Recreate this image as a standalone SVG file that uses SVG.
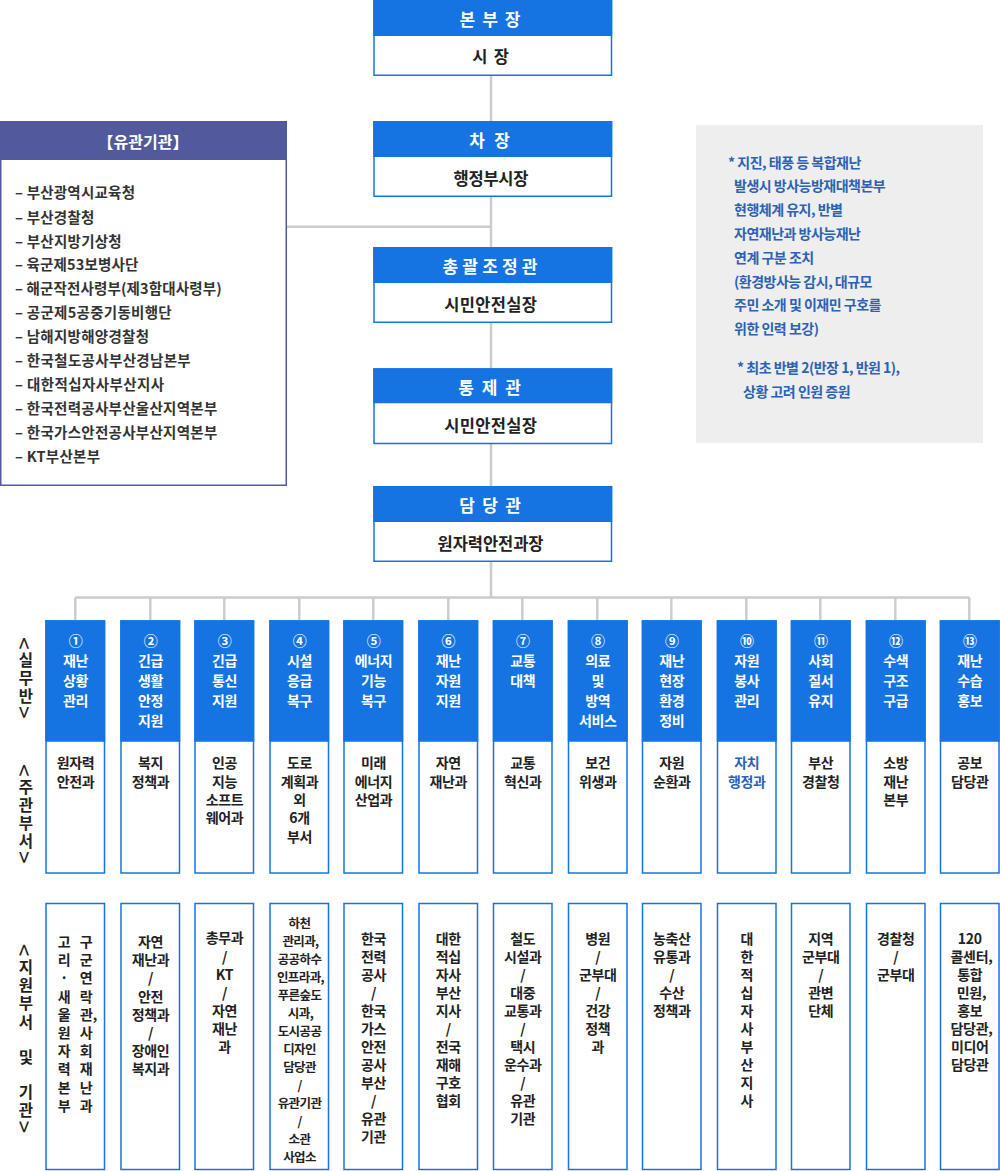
<svg xmlns="http://www.w3.org/2000/svg" width="1000" height="1171" viewBox="0 0 1000 1171">
<style>
.hb{fill:#1673e2}
.box{fill:#fff;stroke:#1673e2;stroke-width:1.5}
.t{font-family:"Noto Sans CJK KR","Noto Sans",sans-serif;dominant-baseline:central;text-anchor:middle}
.tl{font-family:"Noto Sans CJK KR","Noto Sans",sans-serif;dominant-baseline:central;text-anchor:start}
.hw{fill:#fff;font-size:17px;font-weight:bold}
.bk{fill:#222;font-size:16.5px;font-weight:bold}
.cw{fill:#fff;font-size:14px;font-weight:bold;letter-spacing:-0.3px}
.cb{fill:#222;font-size:14px;font-weight:bold;letter-spacing:-0.3px}
.cs{fill:#222;font-size:12.5px;font-weight:bold;letter-spacing:-0.6px}
.cblue{fill:#2c62b4}
.vt{font-family:"Noto Sans CJK KR","Noto Sans",sans-serif;writing-mode:vertical-rl;fill:#222;font-size:15.5px;font-weight:bold;letter-spacing:2.5px}
.ang{font-size:22px;font-weight:normal}
.ln{stroke:#cccccc;stroke-width:2.5;fill:none}
.org{fill:#fff;stroke:#525a9d;stroke-width:1.5}
.orgh{fill:#525a9d}
.li{fill:#333;font-size:14.5px;font-weight:bold}
.note{fill:#2c62b4;font-size:14px;font-weight:bold;letter-spacing:-0.5px}
</style>

<g id="connectors">
<path class="ln" d="M491 75 V597.5 M287 226.7 H491 M75.3 597.5 H969.5"/>
<path class="ln" d="M75.3 597.5 V621 M150.3 597.5 V621 M224.3 597.5 V621 M299.3 597.5 V621 M373.3 597.5 V621 M448.3 597.5 V621 M522.3 597.5 V621 M597.3 597.5 V621 M671.3 597.5 V621 M746.3 597.5 V621 M820.3 597.5 V621 M895.3 597.5 V621 M969.3 597.5 V621"/>
</g>

<g id="node-bonbujang">
<rect class="box" x="374" y="0.75" width="237.5" height="74.5"/>
<rect class="hb" x="373.25" y="0" width="239" height="36"/>
<text class="t hw" x="490" y="18.5" textLength="61" lengthAdjust="spacing">본 부 장</text>
<text class="t bk" x="490.5" y="56" textLength="36.7" lengthAdjust="spacing">시 장</text>
</g>
<g id="node-chajang">
<rect class="box" x="374" y="121.75" width="237.5" height="74.5"/>
<rect class="hb" x="373.25" y="121" width="239" height="36"/>
<text class="t hw" x="489.5" y="139.5" textLength="40.7" lengthAdjust="spacing">차 장</text>
<text class="t bk" x="491" y="178" textLength="75" lengthAdjust="spacing">행정부시장</text>
</g>
<g id="node-chonggwal">
<rect class="box" x="374" y="247.75" width="237.5" height="74.5"/>
<rect class="hb" x="373.25" y="247" width="239" height="36"/>
<text class="t hw" x="490" y="265.5" textLength="95" lengthAdjust="spacing">총괄조정관</text>
<text class="t bk" x="490.5" y="303.5" textLength="92.7" lengthAdjust="spacing">시민안전실장</text>
</g>
<g id="node-tongje">
<rect class="box" x="374" y="369" width="237.5" height="74.5"/>
<rect class="hb" x="373.25" y="368.25" width="239" height="35"/>
<text class="t hw" x="489.5" y="386" textLength="62.7" lengthAdjust="spacing">통 제 관</text>
<text class="t bk" x="490.5" y="424.5" textLength="92.7" lengthAdjust="spacing">시민안전실장</text>
</g>
<g id="node-damdang">
<rect class="box" x="374" y="486.75" width="237.5" height="74.5"/>
<rect class="hb" x="373.25" y="486" width="239" height="36"/>
<text class="t hw" x="490" y="504" textLength="61.7" lengthAdjust="spacing">담 당 관</text>
<text class="t bk" x="490.5" y="542.5" textLength="106" lengthAdjust="spacing">원자력안전과장</text>
</g>

<g id="node-yugwan">
<rect class="org" x="0.75" y="121.75" width="285.5" height="363.5"/>
<rect class="orgh" x="0" y="121" width="287" height="39"/>
<text class="t" x="143" y="141" style="fill:#fff;font-size:16px;font-weight:bold">【유관기관】</text>
<text class="tl li" x="15" y="191.7" textLength="120" lengthAdjust="spacing">– 부산광역시교육청</text>
<text class="tl li" x="15" y="216" textLength="79.3" lengthAdjust="spacing">– 부산경찰청</text>
<text class="tl li" x="15" y="240" textLength="106.7" lengthAdjust="spacing">– 부산지방기상청</text>
<text class="tl li" x="15" y="263.5" textLength="123.3" lengthAdjust="spacing">– 육군제53보병사단</text>
<text class="tl li" x="15" y="287.5" textLength="206.7" lengthAdjust="spacing">– 해군작전사령부(제3함대사령부)</text>
<text class="tl li" x="15" y="311.7" textLength="156.7" lengthAdjust="spacing">– 공군제5공중기동비행단</text>
<text class="tl li" x="15" y="335.7" textLength="134" lengthAdjust="spacing">– 남해지방해양경찰청</text>
<text class="tl li" x="15" y="359.5" textLength="175.7" lengthAdjust="spacing">– 한국철도공사부산경남본부</text>
<text class="tl li" x="15" y="383.5" textLength="149" lengthAdjust="spacing">– 대한적십자사부산지사</text>
<text class="tl li" x="15" y="407.7" textLength="202.3" lengthAdjust="spacing">– 한국전력공사부산울산지역본부</text>
<text class="tl li" x="15" y="431" textLength="202.3" lengthAdjust="spacing">– 한국가스안전공사부산지역본부</text>
<text class="tl li" x="15" y="455" textLength="85" lengthAdjust="spacing">– KT부산본부</text>
</g>

<g id="node-note">
<rect x="696" y="125" width="287" height="318" fill="#eeeeee"/>
<text class="tl note" x="728" y="161.7">* 지진, 태풍 등 복합재난</text>
<text class="tl note" x="734" y="185">발생시 방사능방재대책본부</text>
<text class="tl note" x="734" y="209">현행체계 유지, 반별</text>
<text class="tl note" x="734" y="232.7">자연재난과 방사능재난</text>
<text class="tl note" x="734" y="256.7">연계 구분 조치</text>
<text class="tl note" x="734" y="280.7">(환경방사능 감시, 대규모</text>
<text class="tl note" x="734" y="304.3">주민 소개 및 이재민 구호를</text>
<text class="tl note" x="734" y="328.3">위한 인력 보강)</text>
<text class="tl note" x="737" y="366.7">* 최초 반별 2(반장 1, 반원 1),</text>
<text class="tl note" x="743" y="390.7">상황 고려 인원 증원</text>
</g>

<g id="labels-side">
<text class="vt" x="26" y="637.3"><tspan class="ang">&lt;</tspan>실무반<tspan class="ang">&gt;</tspan></text>
<text class="vt" x="26" y="764.3"><tspan class="ang">&lt;</tspan>주관부서<tspan class="ang">&gt;</tspan></text>
<text class="vt" x="26" y="944" style="letter-spacing:2.8px"><tspan class="ang">&lt;</tspan>지원부서</text>
<text class="vt" x="26" y="1049.8">및</text>
<text class="vt" x="26" y="1084.8">기관<tspan class="ang">&gt;</tspan></text>
</g>

<g id="col-01">
<rect class="box" x="46" y="621" width="58.5" height="252"/>
<rect class="hb" x="45.25" y="620.25" width="60" height="121.5"/>
<text class="t cw" x="75.5" y="640">①</text>
<text class="t cw" x="75.5" y="660">재난</text><text class="t cw" x="75.5" y="680">상황</text><text class="t cw" x="75.5" y="700">관리</text>
<text class="t cb" x="75.5" y="762.3">원자력</text><text class="t cb" x="75.5" y="780.7">안전과</text>
<rect class="box" x="46" y="903.5" width="58.5" height="266"/>
<text class="t cb" x="64"><tspan x="64" y="940.7">고</tspan><tspan x="64" y="959">리</tspan><tspan x="64" y="977.3">·</tspan><tspan x="64" y="995.5">새</tspan><tspan x="64" y="1013.7">울</tspan><tspan x="64" y="1032">원</tspan><tspan x="64" y="1050.2">자</tspan><tspan x="64" y="1068.4">력</tspan><tspan x="64" y="1086.6">본</tspan><tspan x="64" y="1104.8">부</tspan></text>
<text class="t cb" x="86"><tspan x="86" y="940.7">구</tspan><tspan x="86" y="959">군</tspan><tspan x="86" y="977.3">연</tspan><tspan x="86" y="995.5">락</tspan><tspan x="88.5" y="1013.7">관,</tspan><tspan x="86" y="1032">사</tspan><tspan x="86" y="1050.2">회</tspan><tspan x="86" y="1068.4">재</tspan><tspan x="86" y="1086.6">난</tspan><tspan x="86" y="1104.8">과</tspan></text>
</g>

<g id="col-02">
<rect class="box" x="121" y="621" width="58.5" height="252"/>
<rect class="hb" x="120.25" y="620.25" width="60" height="121.5"/>
<text class="t cw" x="150.5" y="640">②</text>
<text class="t cw" x="150.5" y="660">긴급</text><text class="t cw" x="150.5" y="680">생활</text><text class="t cw" x="150.5" y="700">안정</text><text class="t cw" x="150.5" y="720">지원</text>
<text class="t cb" x="150.5" y="762.3">복지</text><text class="t cb" x="150.5" y="780.7">정책과</text>
<rect class="box" x="121" y="903.5" width="58.5" height="266"/>
<text class="t cb" x="150.5"><tspan x="150.5" y="940.7">자연</tspan><tspan x="150.5" y="959">재난과</tspan><tspan x="150.5" y="977.3">/</tspan><tspan x="150.5" y="995.5">안전</tspan><tspan x="150.5" y="1013.7">정책과</tspan><tspan x="150.5" y="1032">/</tspan><tspan x="150.5" y="1050.2">장애인</tspan><tspan x="150.5" y="1068.4">복지과</tspan></text>
</g>

<g id="col-03">
<rect class="box" x="195" y="621" width="58.5" height="252"/>
<rect class="hb" x="194.25" y="620.25" width="60" height="121.5"/>
<text class="t cw" x="224.5" y="640">③</text>
<text class="t cw" x="224.5" y="660">긴급</text><text class="t cw" x="224.5" y="680">통신</text><text class="t cw" x="224.5" y="700">지원</text>
<text class="t cb" x="224.5" y="762.3">인공</text><text class="t cb" x="224.5" y="780.7">지능</text><text class="t cb" x="224.5" y="799">소프트</text><text class="t cb" x="224.5" y="817.3">웨어과</text>
<rect class="box" x="195" y="903.5" width="58.5" height="266"/>
<text class="t cb" x="224.5"><tspan x="224.5" y="937.3">총무과</tspan><tspan x="224.5" y="955.5">/</tspan><tspan x="224.5" y="973.8">KT</tspan><tspan x="224.5" y="992">/</tspan><tspan x="224.5" y="1010">자연</tspan><tspan x="224.5" y="1028">재난</tspan><tspan x="224.5" y="1046">과</tspan></text>
</g>

<g id="col-04">
<rect class="box" x="270" y="621" width="58.5" height="252"/>
<rect class="hb" x="269.25" y="620.25" width="60" height="121.5"/>
<text class="t cw" x="299.5" y="640">④</text>
<text class="t cw" x="299.5" y="660">시설</text><text class="t cw" x="299.5" y="680">응급</text><text class="t cw" x="299.5" y="700">복구</text>
<text class="t cb" x="299.5" y="762.3">도로</text><text class="t cb" x="299.5" y="780.7">계획과</text><text class="t cb" x="299.5" y="799">외</text><text class="t cb" x="299.5" y="817.3">6개</text><text class="t cb" x="299.5" y="835.7">부서</text>
<rect class="box" x="270" y="903.5" width="58.5" height="266"/>
<text class="t cs" x="299.5"><tspan x="299.5" y="921.7">하천</tspan><tspan x="300.5" y="940">관리과,</tspan><tspan x="299.5" y="958">공공하수</tspan><tspan x="300.5" y="976">인프라과,</tspan><tspan x="299.5" y="993.7">푸른숲도</tspan><tspan x="300.5" y="1011.7">시과,</tspan><tspan x="299.5" y="1029.7">도시공공</tspan><tspan x="299.5" y="1047.7">디자인</tspan><tspan x="299.5" y="1065.7">담당관</tspan><tspan x="299.5" y="1083.7">/</tspan><tspan x="299.5" y="1101.7">유관기관</tspan><tspan x="299.5" y="1119.5">/</tspan><tspan x="299.5" y="1137.5">소관</tspan><tspan x="299.5" y="1155.5">사업소</tspan></text>
</g>

<g id="col-05">
<rect class="box" x="344" y="621" width="58.5" height="252"/>
<rect class="hb" x="343.25" y="620.25" width="60" height="121.5"/>
<text class="t cw" x="373.5" y="640">⑤</text>
<text class="t cw" x="373.5" y="660">에너지</text><text class="t cw" x="373.5" y="680">기능</text><text class="t cw" x="373.5" y="700">복구</text>
<text class="t cb" x="373.5" y="762.3">미래</text><text class="t cb" x="373.5" y="780.7">에너지</text><text class="t cb" x="373.5" y="799">산업과</text>
<rect class="box" x="344" y="903.5" width="58.5" height="266"/>
<text class="t cb" x="373.5"><tspan x="373.5" y="938.3">한국</tspan><tspan x="373.5" y="956.3">전력</tspan><tspan x="373.5" y="974.3">공사</tspan><tspan x="373.5" y="992.3">/</tspan><tspan x="373.5" y="1010.3">한국</tspan><tspan x="373.5" y="1028.3">가스</tspan><tspan x="373.5" y="1046.3">안전</tspan><tspan x="373.5" y="1064.3">공사</tspan><tspan x="373.5" y="1082.3">부산</tspan><tspan x="373.5" y="1100.3">/</tspan><tspan x="373.5" y="1118.3">유관</tspan><tspan x="373.5" y="1136.3">기관</tspan></text>
</g>

<g id="col-06">
<rect class="box" x="419" y="621" width="58.5" height="252"/>
<rect class="hb" x="418.25" y="620.25" width="60" height="121.5"/>
<text class="t cw" x="448.3" y="640">⑥</text>
<text class="t cw" x="448.3" y="660">재난</text><text class="t cw" x="448.3" y="680">자원</text><text class="t cw" x="448.3" y="700">지원</text>
<text class="t cb" x="448.3" y="762.3">자연</text><text class="t cb" x="448.3" y="780.7">재난과</text>
<rect class="box" x="419" y="903.5" width="58.5" height="266"/>
<text class="t cb" x="448.3"><tspan x="448.3" y="938.3">대한</tspan><tspan x="448.3" y="956.3">적십</tspan><tspan x="448.3" y="974.3">자사</tspan><tspan x="448.3" y="992.3">부산</tspan><tspan x="448.3" y="1010.3">지사</tspan><tspan x="448.3" y="1028.3">/</tspan><tspan x="448.3" y="1046.3">전국</tspan><tspan x="448.3" y="1064.3">재해</tspan><tspan x="448.3" y="1082.3">구호</tspan><tspan x="448.3" y="1100.3">협회</tspan></text>
</g>

<g id="col-07">
<rect class="box" x="493.5" y="621" width="58.5" height="252"/>
<rect class="hb" x="492.75" y="620.25" width="60" height="121.5"/>
<text class="t cw" x="522.8" y="640">⑦</text>
<text class="t cw" x="522.8" y="660">교통</text><text class="t cw" x="522.8" y="680">대책</text>
<text class="t cb" x="522.8" y="762.3">교통</text><text class="t cb" x="522.8" y="780.7">혁신과</text>
<rect class="box" x="493.5" y="903.5" width="58.5" height="266"/>
<text class="t cb" x="522.8"><tspan x="522.8" y="938.3">철도</tspan><tspan x="522.8" y="956.3">시설과</tspan><tspan x="522.8" y="974.3">/</tspan><tspan x="522.8" y="992.3">대중</tspan><tspan x="522.8" y="1010.3">교통과</tspan><tspan x="522.8" y="1028.3">/</tspan><tspan x="522.8" y="1046.3">택시</tspan><tspan x="522.8" y="1064.3">운수과</tspan><tspan x="522.8" y="1082.3">/</tspan><tspan x="522.8" y="1100.3">유관</tspan><tspan x="522.8" y="1118.3">기관</tspan></text>
</g>

<g id="col-08">
<rect class="box" x="568.5" y="621" width="58.5" height="252"/>
<rect class="hb" x="567.75" y="620.25" width="60" height="121.5"/>
<text class="t cw" x="597.8" y="640">⑧</text>
<text class="t cw" x="597.8" y="660">의료</text><text class="t cw" x="597.8" y="680">및</text><text class="t cw" x="597.8" y="700">방역</text><text class="t cw" x="597.8" y="720">서비스</text>
<text class="t cb" x="597.8" y="762.3">보건</text><text class="t cb" x="597.8" y="780.7">위생과</text>
<rect class="box" x="568.5" y="903.5" width="58.5" height="266"/>
<text class="t cb" x="597.8"><tspan x="597.8" y="938.3">병원</tspan><tspan x="597.8" y="956.3">/</tspan><tspan x="597.8" y="974.3">군부대</tspan><tspan x="597.8" y="992.3">/</tspan><tspan x="597.8" y="1010.3">건강</tspan><tspan x="597.8" y="1028.3">정책</tspan><tspan x="597.8" y="1046.3">과</tspan></text>
</g>

<g id="col-09">
<rect class="box" x="642.5" y="621" width="58.5" height="252"/>
<rect class="hb" x="641.75" y="620.25" width="60" height="121.5"/>
<text class="t cw" x="671.8" y="640">⑨</text>
<text class="t cw" x="671.8" y="660">재난</text><text class="t cw" x="671.8" y="680">현장</text><text class="t cw" x="671.8" y="700">환경</text><text class="t cw" x="671.8" y="720">정비</text>
<text class="t cb" x="671.8" y="762.3">자원</text><text class="t cb" x="671.8" y="780.7">순환과</text>
<rect class="box" x="642.5" y="903.5" width="58.5" height="266"/>
<text class="t cb" x="671.8"><tspan x="671.8" y="938.3">농축산</tspan><tspan x="671.8" y="956.3">유통과</tspan><tspan x="671.8" y="974.3">/</tspan><tspan x="671.8" y="992.3">수산</tspan><tspan x="671.8" y="1010.3">정책과</tspan></text>
</g>

<g id="col-10">
<rect class="box" x="717.5" y="621" width="58.5" height="252"/>
<rect class="hb" x="716.75" y="620.25" width="60" height="121.5"/>
<text class="t cw" x="746.8" y="640">⑩</text>
<text class="t cw" x="746.8" y="660">자원</text><text class="t cw" x="746.8" y="680">봉사</text><text class="t cw" x="746.8" y="700">관리</text>
<text class="t cb cblue" x="746.8" y="762.3">자치</text><text class="t cb cblue" x="746.8" y="780.7">행정과</text>
<rect class="box" x="717.5" y="903.5" width="58.5" height="266"/>
<text class="t cb" x="746.8"><tspan x="746.8" y="938.3">대</tspan><tspan x="746.8" y="956.3">한</tspan><tspan x="746.8" y="974.3">적</tspan><tspan x="746.8" y="992.3">십</tspan><tspan x="746.8" y="1010.3">자</tspan><tspan x="746.8" y="1028.3">사</tspan><tspan x="746.8" y="1046.3">부</tspan><tspan x="746.8" y="1064.3">산</tspan><tspan x="746.8" y="1082.3">지</tspan><tspan x="746.8" y="1100.3">사</tspan></text>
</g>

<g id="col-11">
<rect class="box" x="791.5" y="621" width="58.5" height="252"/>
<rect class="hb" x="790.75" y="620.25" width="60" height="121.5"/>
<text class="t cw" x="820.8" y="640">⑪</text>
<text class="t cw" x="820.8" y="660">사회</text><text class="t cw" x="820.8" y="680">질서</text><text class="t cw" x="820.8" y="700">유지</text>
<text class="t cb" x="820.8" y="762.3">부산</text><text class="t cb" x="820.8" y="780.7">경찰청</text>
<rect class="box" x="791.5" y="903.5" width="58.5" height="266"/>
<text class="t cb" x="820.8"><tspan x="820.8" y="938.3">지역</tspan><tspan x="820.8" y="956.3">군부대</tspan><tspan x="820.8" y="974.3">/</tspan><tspan x="820.8" y="992.3">관변</tspan><tspan x="820.8" y="1010.3">단체</tspan></text>
</g>

<g id="col-12">
<rect class="box" x="866.5" y="621" width="58.5" height="252"/>
<rect class="hb" x="865.75" y="620.25" width="60" height="121.5"/>
<text class="t cw" x="895.8" y="640">⑫</text>
<text class="t cw" x="895.8" y="660">수색</text><text class="t cw" x="895.8" y="680">구조</text><text class="t cw" x="895.8" y="700">구급</text>
<text class="t cb" x="895.8" y="762.3">소방</text><text class="t cb" x="895.8" y="780.7">재난</text><text class="t cb" x="895.8" y="799">본부</text>
<rect class="box" x="866.5" y="903.5" width="58.5" height="266"/>
<text class="t cb" x="895.8"><tspan x="895.8" y="938.3">경찰청</tspan><tspan x="895.8" y="956.3">/</tspan><tspan x="895.8" y="974.3">군부대</tspan></text>
</g>

<g id="col-13">
<rect class="box" x="940.5" y="621" width="58.5" height="252"/>
<rect class="hb" x="939.75" y="620.25" width="60" height="121.5"/>
<text class="t cw" x="969.8" y="640">⑬</text>
<text class="t cw" x="969.8" y="660">재난</text><text class="t cw" x="969.8" y="680">수습</text><text class="t cw" x="969.8" y="700">홍보</text>
<text class="t cb" x="969.8" y="762.3">공보</text><text class="t cb" x="969.8" y="780.7">담당관</text>
<rect class="box" x="940.5" y="903.5" width="58.5" height="266"/>
<text class="t cb" x="969.8"><tspan x="969.8" y="938.3">120</tspan><tspan x="971.5" y="956.3">콜센터,</tspan><tspan x="969.8" y="974.3">통합</tspan><tspan x="971.5" y="992.3">민원,</tspan><tspan x="969.8" y="1010.3">홍보</tspan><tspan x="971.5" y="1028.3">담당관,</tspan><tspan x="969.8" y="1046.3">미디어</tspan><tspan x="969.8" y="1064.3">담당관</tspan></text>
</g>
</svg>
